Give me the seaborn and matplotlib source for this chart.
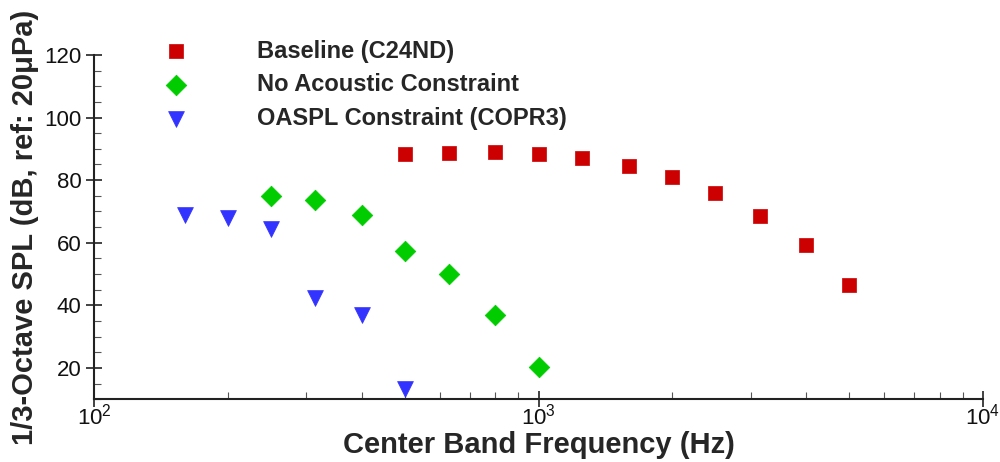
import numpy as np
import pandas as pd
import matplotlib
matplotlib.use("Agg")
import matplotlib.pyplot as plt
import seaborn as sns
from matplotlib.ticker import LogLocator, MultipleLocator, NullFormatter

sns.set_style("ticks")
plt.rcParams['font.family'] = ['Liberation Sans', 'DejaVu Sans']

# Data
baseline_freq = [500, 630, 800, 1000, 1250, 1600, 2000, 2500, 3150, 4000, 5000]
baseline_spl = [88.4, 88.7, 89.0, 88.4, 87.0, 84.5, 81.0, 76.0, 68.6, 59.3, 46.4]
noac_freq = [250, 315, 400, 500, 630, 800, 1000]
noac_spl = [75.0, 73.8, 68.8, 57.3, 50.0, 36.8, 20.3]
oaspl_freq = [160, 200, 250, 315, 400, 500]
oaspl_spl = [68.9, 67.9, 64.3, 42.3, 36.8, 13.4]

labels = ["Baseline (C24ND)", "No Acoustic Constraint", "OASPL Constraint (COPR3)"]
colors = ["#CC0000", "#00CC00", "#3333FF"]
markers = ["s", "D", "v"]

fig = plt.figure(figsize=(10, 4.62), dpi=100)
ax = fig.add_axes([0.094, 0.136, 0.889, 0.745])

series = [(baseline_freq, baseline_spl), (noac_freq, noac_spl), (oaspl_freq, oaspl_spl)]
sizes = [105, 110, 130]
for (f, s), lab, c, m, sz in zip(series, labels, colors, markers, sizes):
    df = pd.DataFrame({"f": f, "s": s})
    sns.scatterplot(data=df, x="f", y="s", ax=ax, color=c, marker=m, s=sz,
                    edgecolor=c, linewidth=0.5, label=lab)

ax.set_xscale("log")
ax.set_xlim(100, 10000)
ax.set_ylim(10, 120)
ax.yaxis.set_major_locator(MultipleLocator(20))
ax.yaxis.set_minor_locator(MultipleLocator(5))
ax.xaxis.set_major_locator(LogLocator(base=10, numticks=10))
ax.xaxis.set_minor_locator(LogLocator(base=10, subs=np.arange(2, 10), numticks=10))
ax.xaxis.set_minor_formatter(NullFormatter())

for sp in ["top", "right"]:
    ax.spines[sp].set_visible(False)
for sp in ["left", "bottom"]:
    ax.spines[sp].set_linewidth(1.5)
    ax.spines[sp].set_color("#222222")

ax.tick_params(axis="both", which="major", direction="inout", length=12, width=1.2,
               labelsize=16, colors="#222222", labelcolor="#111111", pad=3)
ax.tick_params(axis="both", which="minor", direction="in", length=5, width=0.8,
               colors="#555555")
ax.tick_params(axis="x", which="major", pad=-3)

ax.set_xlabel("Center Band Frequency (Hz)", fontsize=21, fontweight="bold")
ax.xaxis.set_label_coords(0.5, -0.092)
ax.set_ylabel("1/3-Octave SPL (dB, ref: 20\u03bcPa)", fontsize=21, fontweight="bold", labelpad=4)
ax.grid(False)

leg = ax.legend(loc="upper left", bbox_to_anchor=(0.055, 1.072), frameon=False,
                handletextpad=2.45, labelspacing=0.45, borderaxespad=0,
                prop={"weight": "bold", "size": 17})

fig.savefig("out.png", dpi=100)
